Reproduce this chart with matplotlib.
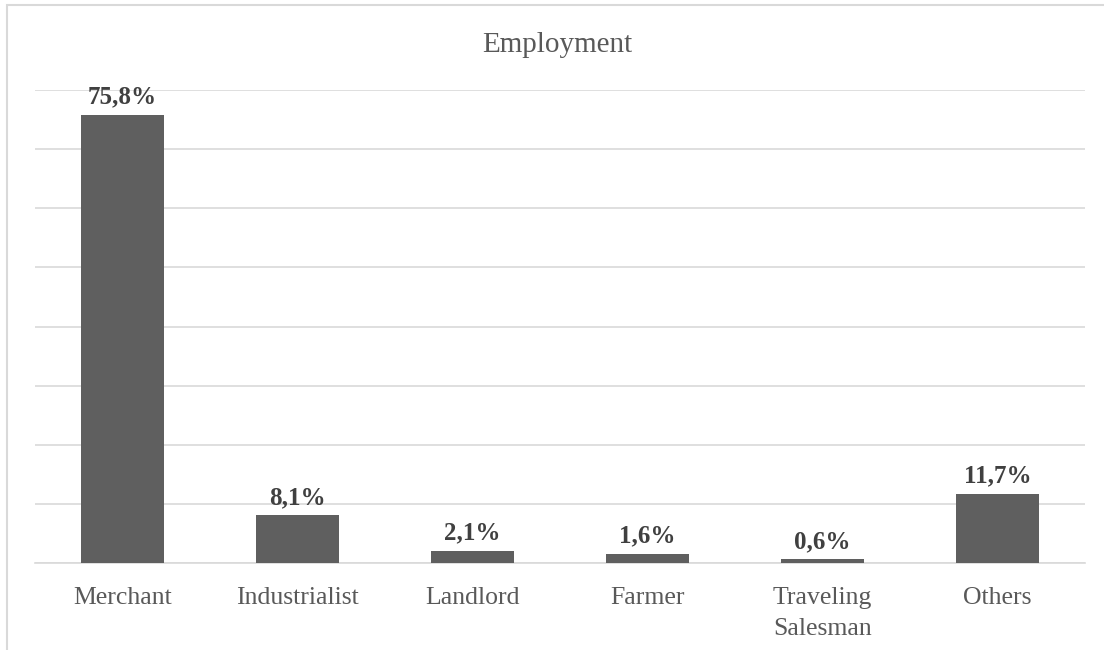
import matplotlib
matplotlib.use("Agg")
import matplotlib.pyplot as plt
from matplotlib.patches import Rectangle

categories = ["Merchant", "Industrialist", "Landlord", "Farmer", "Traveling\nSalesman", "Others"]
values = [75.8, 8.1, 2.1, 1.6, 0.6, 11.7]
labels = ["75,8%", "8,1%", "2,1%", "1,6%", "0,6%", "11,7%"]

plt.rcParams["font.family"] = ["Liberation Serif", "DejaVu Serif"]

fig = plt.figure(figsize=(11.04, 6.5), dpi=100)
ax = fig.add_axes([35 / 1104, 1 - 563 / 650, 1050 / 1104, 473 / 650])

x = range(len(categories))
bars = ax.bar(x, values, width=0.47, color="#5f5f5f", zorder=3)
for b, lab in zip(bars, labels):
    ax.annotate(lab, (b.get_x() + b.get_width() / 2, b.get_height()),
                xytext=(0, 4.5), textcoords="offset points", ha="center", va="bottom",
                fontsize=18, fontweight="bold", color="#404040")

ax.set_xlim(-0.5, len(categories) - 0.5)
ax.set_ylim(0, 80)
ax.set_yticks(range(0, 81, 10))
ax.yaxis.grid(True, color="#d9d9d9", lw=1.2, zorder=0)
ax.tick_params(axis="y", left=False, labelleft=False)
ax.set_xticks(list(x))
ax.set_xticklabels(categories, fontsize=18.5, color="#595959", linespacing=1.5, va="top")
ax.tick_params(axis="x", length=0, pad=17.5)
for s in ["top", "right", "left"]:
    ax.spines[s].set_visible(False)
ax.spines["bottom"].set_color("#d9d9d9")
ax.spines["bottom"].set_linewidth(1.2)

fig.text(557 / 1104, 1 - 45 / 650, "Employment", ha="center", va="center",
         fontsize=21, color="#595959")

# chart border (cropped on the right and bottom)
fig.patches.append(Rectangle((7 / 1104, -0.1), 1.2, 1 - 5 / 650 + 0.1,
                             transform=fig.transFigure, fill=False,
                             edgecolor="#d9d9d9", lw=1.5))

fig.savefig("out.png", dpi=100)
